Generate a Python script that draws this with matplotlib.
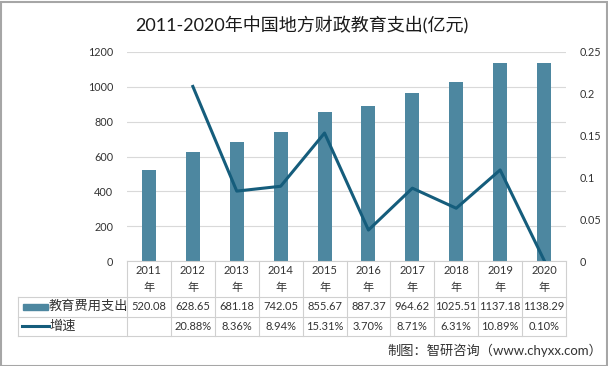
import matplotlib
matplotlib.use("Agg")
import matplotlib.pyplot as plt
import matplotlib.transforms as mtransforms
from matplotlib.patches import Rectangle
from matplotlib.lines import Line2D

plt.rcParams['font.family'] = ['Lato', 'Noto Sans CJK SC', 'DejaVu Sans']

years = ['2011', '2012', '2013', '2014', '2015', '2016', '2017', '2018', '2019', '2020']
spending = [520.08, 628.65, 681.18, 742.05, 855.67, 887.37, 964.62, 1025.51, 1137.18, 1138.29]
growth = [None, 0.2088, 0.0836, 0.0894, 0.1531, 0.0370, 0.0871, 0.0631, 0.1089, 0.0010]
spending_labels = ['520.08', '628.65', '681.18', '742.05', '855.67', '887.37', '964.62',
                   '1025.51', '1137.18', '1138.29']
growth_labels = ['', '20.88%', '8.36%', '8.94%', '15.31%', '3.70%', '8.71%', '6.31%',
                 '10.89%', '0.10%']

bar_color = '#4d87a0'
line_color = '#155d7c'
grid_color = '#d9d9d9'
text_color = '#333333'

W, H = 608, 366
fig = plt.figure(figsize=(W / 100, H / 100), dpi=100)

# plot area in pixels
x0, x1, ytop, ybot = 127, 566, 52, 261
ax = fig.add_axes([x0 / W, (H - ybot) / H, (x1 - x0) / W, (ybot - ytop) / H])
ax2 = ax.twinx()

xs = list(range(len(years)))
ax.bar(xs, spending, width=0.32, color=bar_color, zorder=2)
gx = [x for x, g in zip(xs, growth) if g is not None]
gy = [g for g in growth if g is not None]
ax2.plot(gx, gy, color=line_color, lw=2.2, zorder=3)

ax.set_xlim(-0.5, len(years) - 0.5)
ax.set_ylim(0, 1200)
ax.set_yticks(range(0, 1201, 200))
ax2.set_ylim(0, 0.25)
ax2.set_yticks([0, 0.05, 0.1, 0.15, 0.2, 0.25])
ax2.set_yticklabels(['0', '0.05', '0.1', '0.15', '0.2', '0.25'])
ax.grid(axis='y', color=grid_color, lw=0.8, zorder=0)
ax.set_axisbelow(True)
ax.set_xticks([])
for a in (ax, ax2):
    for s in a.spines.values():
        s.set_visible(False)
    a.tick_params(length=0, labelsize=7.8, colors=text_color)
ax.tick_params(axis='y', pad=10)
ax2.tick_params(axis='y', pad=10)

# data table below the plot
def yf(py):
    return (ybot - py) / (ybot - ytop)

tr = mtransforms.blended_transform_factory(ax.transData, ax.transAxes)
border = '#d0d0d0'
rows = [261, 297, 317, 336]
n = len(years)
for i in range(n + 1):
    ax.plot([i - 0.5, i - 0.5], [yf(rows[0]), yf(rows[-1])], transform=tr,
            color=border, lw=0.8, clip_on=False)
ax.plot([-0.5, n - 0.5], [yf(261), yf(261)], transform=tr, color=border, lw=0.8, clip_on=False)
for py in rows[1:]:
    fig.add_artist(Line2D([18 / W, x1 / W], [(H - py) / H, (H - py) / H],
                          color=border, lw=0.8))
fig.add_artist(Line2D([18 / W, 18 / W], [(H - rows[1]) / H, (H - rows[-1]) / H],
                      color=border, lw=0.8))

for i, yr in enumerate(years):
    ax.text(i, yf(270), yr, transform=tr, ha='center', va='center', fontsize=8, color=text_color)
    ax.text(i, yf(287), '年', transform=tr, ha='center', va='center', fontsize=8, color=text_color)
    ax.text(i, yf(306), spending_labels[i], transform=tr, ha='center', va='center',
            fontsize=8, color=text_color)
    ax.text(i, yf(326), growth_labels[i], transform=tr, ha='center', va='center',
            fontsize=8, color=text_color)

# legend keys in the table
fig.add_artist(Rectangle((23 / W, (H - 310) / H), 25 / W, 6 / H, color=bar_color))
fig.add_artist(Line2D([22 / W, 49 / W], [(H - 326) / H, (H - 326) / H], color=line_color, lw=2.2))
fig.text(49 / W, (H - 306) / H, '教育费用支出', ha='left', va='center', fontsize=9.5, color=text_color)
fig.text(49 / W, (H - 326) / H, '增速', ha='left', va='center', fontsize=9.5, color=text_color)

fig.text(302 / W, (H - 25) / H, '2011-2020年中国地方财政教育支出(亿元)', ha='center', va='center',
         fontsize=13, color='#1a1a1a')
fig.text(602 / W, (H - 350) / H, '制图：智研咨询（www.chyxx.com）', ha='right', va='center',
         fontsize=9.5, color=text_color)

fig.add_artist(Rectangle((0.5 / W, 0.5 / H), (W - 2) / W, (H - 2) / H, fill=False,
                         edgecolor='#a6a6a6', lw=1.5))

fig.savefig('out.png', dpi=100)
